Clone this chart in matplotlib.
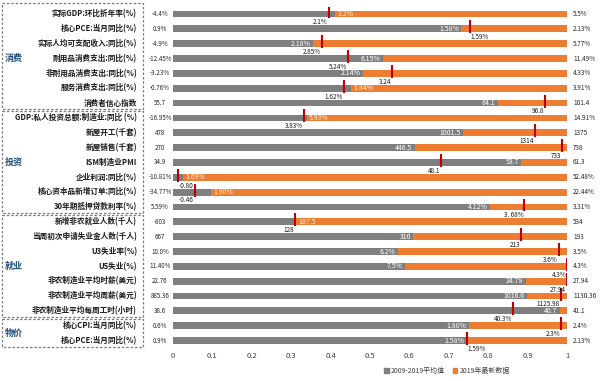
import matplotlib
matplotlib.use("Agg")
import matplotlib.pyplot as plt
import numpy as np
from matplotlib.patches import Patch, Rectangle
from matplotlib.transforms import blended_transform_factory

plt.rcParams['font.family'] = ['Noto Sans CJK SC', 'DejaVu Sans']

# indicator names, top to bottom
labels = [
    "实际GDP:环比折年率(%)", "核心PCE:当月同比(%)", "实际人均可支配收入:同比(%)",
    "耐用品消费支出:同比(%)", "非耐用品消费支出:同比(%)", "服务消费支出:同比(%)",
    "消费者信心指数",
    "GDP:私人投资总额:制造业:同比 (%)", "新屋开工(千套)", "新屋销售(千套)",
    "ISM制造业PMI", "企业利润:同比(%)", "核心资本品新增订单:同比(%)",
    "30年期抵押贷款利率(%)",
    "新增非农就业人数(千人)", "当周初次申请失业金人数(千人)", "U3失业率(%)",
    "U5失业(%)", "非农制造业平均时薪(美元)", "非农制造业平均周薪(美元)",
    "非农制造业平均每周工时(小时)",
    "核心CPI:当月同比(%)", "核心PCE:当月同比(%)",
]
sections = ["消费", "投资", "就业", "物价"]
section_rows = [(0, 6), (7, 13), (14, 20), (21, 22)]

# normalised position of the 2009-2019 average and of the latest 2019 value
avg_pos = [0.411, 0.732, 0.356, 0.533, 0.481, 0.453, 0.825,
           0.339, 0.736, 0.614, 0.884, 0.026, 0.097, 0.804,
           0.312, 0.610, 0.571, 0.588, 0.895, 0.899, 0.981,
           0.751, 0.746]
latest_pos = [0.395, 0.753, 0.378, 0.444, 0.557, 0.434, 0.945,
              0.332, 0.918, 0.988, 0.681, 0.013, 0.055, 0.892,
              0.309, 0.884, 0.979, 1.0, 1.0, 0.984, 0.863,
              0.986, 0.746]

min_text = ["-4.4%", "0.9%", "-4.9%", "-12.45%", "-3.23%", "-0.76%", "55.7",
            "-16.95%", "478", "270", "34.9", "-10.81%", "-34.77%", "5.59%",
            "-803", "667", "10.0%", "11.40%", "22.76", "885.36", "38.6",
            "0.6%", "0.9%"]
max_text = ["5.5%", "2.13%", "5.77%", "11.49%", "4.33%", "3.91%", "101.4",
            "14.91%", "1375", "738", "61.3", "52.48%", "22.44%", "3.31%",
            "534", "193", "3.5%", "4.3%", "27.94", "1130.36", "41.1",
            "2.4%", "2.13%"]
avg_text = ["2.2%", "1.58%", "2.18%", "6.15%", "2.14%", "1.84%", "84.1",
            "5.93%", "1001.5", "446.5", "53.7", "1.69%", "1.90%", "4.12%",
            "187.5", "310", "6.2%", "7.5%", "24.79", "1016.6", "40.7",
            "1.80%", "1.58%"]
latest_text = ["2.1%", "1.59%", "2.85%", "5.24%", "3.24", "1.62%", "96.8",
               "3.83%", "1314", "733", "48.1", "-0.80", "-0.46", "3. 68%",
               "128", "213", "3.6%", "4.3%", "27.94", "1125.98", "40.3%",
               "2.3%", "1.59%"]

# which side of the marker / bar end the labels sit on
avg_outside = [0, 5, 7, 11, 12, 14]
latest_right = [1, 11, 22]

gray = "#7F7F7F"
orange = "#ED7D31"
red = "#C00000"

fig = plt.figure(figsize=(6, 3.81), dpi=100)
ax = fig.add_axes([173 / 600, 1 - 348 / 381, 394 / 600, (348 - 6.6) / 381])
y = np.arange(len(labels))
avg = np.array(avg_pos)

ax.barh(y, avg, height=0.46, color=gray)
ax.barh(y, 1 - avg, left=avg, height=0.46, color=orange)
ax.vlines(latest_pos, y - 0.57, y + 0.30, color=red, lw=1.5, zorder=4)

ax.set_xlim(0, 1)
ax.set_ylim(len(labels) - 0.5, -0.5)
ax.set_xticks(np.arange(0, 1.01, 0.1))
ax.set_xticklabels(["0", "0.1", "0.2", "0.3", "0.4", "0.5", "0.6", "0.7", "0.8", "0.9", "1"])
ax.tick_params(axis="x", length=0, labelsize=5.5, labelcolor="#404040", pad=3)
ax.set_yticks([])
for s in ax.spines.values():
    s.set_visible(False)

bt = blended_transform_factory(fig.transFigure, ax.transData)

for i in range(len(labels)):
    ax.text(137 / 600, i, labels[i], transform=bt, ha="right", va="center",
            fontsize=5.5, fontweight="bold", color="#1A1A1A")
    ax.text(160 / 600, i, min_text[i], transform=bt, ha="center", va="center",
            fontsize=4.5, color="#262626")
    ax.text(573 / 600, i, max_text[i], transform=bt, ha="left", va="center",
            fontsize=4.6, color="#262626")
    if i in avg_outside:
        ax.text(avg_pos[i] + 0.006, i, avg_text[i], ha="left", va="center",
                fontsize=5, color="#FFF0E0")
    else:
        ax.text(avg_pos[i] - 0.006, i, avg_text[i], ha="right", va="center",
                fontsize=5, color="white")
    if i in latest_right:
        ax.text(latest_pos[i] + 0.002, i + 0.56, latest_text[i], ha="left", va="center",
                fontsize=4.6, color="#1A1A1A", zorder=5)
    else:
        ax.text(latest_pos[i] - 0.002, i + 0.56, latest_text[i], ha="right", va="center",
                fontsize=4.6, color="#1A1A1A", zorder=5)

# dashed boxes round each group of indicators
for k, (r0, r1) in enumerate(section_rows):
    top = r0 - 0.75 if k == 0 else r0 - 0.45
    box = Rectangle((2 / 600, top), 141 / 600, (r1 + 0.4) - top, transform=bt,
                    fill=False, ls=(0, (2, 1.5)), lw=0.9, ec="#7A7A7A", clip_on=False)
    ax.add_patch(box)
    ax.text(5 / 600, (r0 + r1) / 2, sections[k], transform=bt, ha="left", va="center",
            fontsize=6.5, fontweight="bold", color="#1F4E79")

handles = [Patch(color=gray, label="2009-2019平均值"), Patch(color=orange, label="2019年最新数据")]
fig.legend(handles=handles, loc="center", bbox_to_anchor=(0.745, 0.026), ncol=2,
           frameon=False, fontsize=5, handlelength=0.6, handleheight=0.6,
           handletextpad=0.3, columnspacing=1.2, labelcolor="#404040")

fig.savefig("out.png", dpi=100)
